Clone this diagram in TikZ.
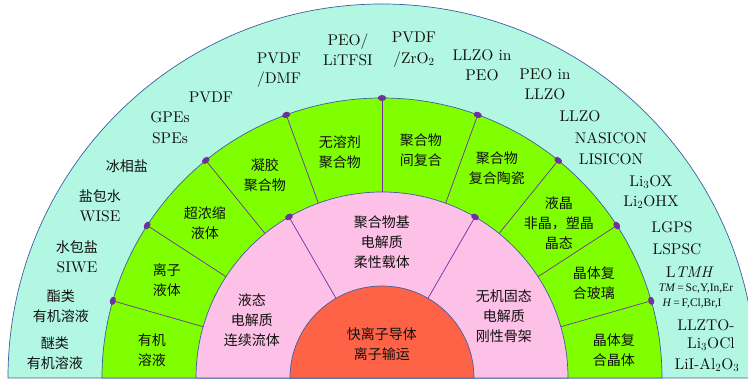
\documentclass[tikz,border=0pt]{standalone}
\usepackage{fontspec}
\setmainfont{lmroman10-regular.otf}[ItalicFont=lmroman10-italic.otf]
\newfontfamily\cjk{Noto Sans CJK SC}
\newfontfamily\timesf{Liberation Serif}
\definecolor{ringA}{HTML}{B2F7E2}
\definecolor{ringB}{HTML}{80FF00}
\definecolor{ringC}{HTML}{FDC0E6}
\definecolor{ringD}{HTML}{FF6347}
\definecolor{edgec}{HTML}{3F5FA0}
\definecolor{divc}{HTML}{7030A0}
\definecolor{txt}{HTML}{111111}
\newcommand\zh[1]{{\cjk\fontsize{14}{20}\selectfont #1}}
\tikzset{
  ring/.style={draw=edgec, line width=0.7pt},
  divline/.style={draw=divc, line width=0.7pt},
  lbl/.style={align=center, text=txt, inner sep=0pt, font=\fontsize{15.5}{20.5}\selectfont},
  zlbl/.style={align=center, text=txt, inner sep=0pt, font=\cjk\fontsize{14}{20}\selectfont},
  small/.style={align=center, text=txt, inner sep=0pt, font=\timesf\fontsize{11.5}{13}\selectfont},
}
\begin{document}
\begin{tikzpicture}[x=1pt,y=1pt]
\useasboundingbox (-382,-5) rectangle (366,378);
\fill[white] (-382,-5) rectangle (366,378);
\begin{scope}
\clip (-382,-5) rectangle (366,378);
\filldraw[ring, fill=ringA] (-374,0) arc[start angle=180, end angle=0, radius=374] -- cycle;
\filldraw[ring, fill=ringB] (-280,0) arc[start angle=180, end angle=0, radius=280] -- cycle;
\filldraw[ring, fill=ringC] (-186,0) arc[start angle=180, end angle=0, radius=186] -- cycle;
\filldraw[ring, fill=ringD] (-92,0) arc[start angle=180, end angle=0, radius=92] -- cycle;
% green ring dividers
\foreach \a in {16,33,51,70,90,110,129,147,164} {
  \coordinate (go\a) at (\a:280);
  \coordinate (gi\a) at (\a:186);
  \draw[divline] (go\a) -- (gi\a);
}
% pink ring dividers
\foreach \a in {60,120} {
  \coordinate (po\a) at (\a:186);
  \coordinate (pi\a) at (\a:92);
  \draw[divline] (po\a) -- (pi\a);
}
\foreach \a in {16,33,51,70,90,110,129,147,164} {
  \fill[divc] (go\a) ellipse[x radius=4.2, y radius=3, rotate=\a+90];
}
\foreach \a in {60,120} {
  \fill[divc] (po\a) ellipse[x radius=4.2, y radius=3, rotate=\a+90];
}
\end{scope}
% outer ring labels
\node[zlbl] (o1) at (-327,24.5) {醚类\\有机溶液};
\node[zlbl] (o2) at (-321,71.5) {酯类\\有机溶液};
\node[lbl] (o3) at (-305,121) {\zh{水包盐}\\SIWE};
\node[lbl] (o4) at (-282,172) {\zh{盐包水}\\WISE};
\node[zlbl] (o5) at (-255,212) {冰相盐};
\node[lbl] (o6) at (-212,250.5) {GPEs\\SPEs};
\node[lbl] (o7) at (-171,281) {PVDF};
\node[lbl] (o8) at (-103,308) {PVDF\\/DMF};
\node[lbl] (o9) at (-34,328) {PEO/\\LiTFSI};
\node[lbl] (o10) at (32,328.5) {PVDF\\/ZrO$_2$};
\node[lbl] (o11) at (100,313) {LLZO in\\PEO};
\node[lbl] (o12) at (163,294) {PEO in\\LLZO};
\node[lbl] (o13) at (198,262) {LLZO};
\node[lbl] (o14) at (229,229.5) {NASICON\\LISICON};
\node[lbl] (o15) at (269,186) {Li$_3$OX\\Li$_2$OHX};
\node[lbl] (o16) at (290,151) {LGPS};
\node[lbl] (o17) at (295,129) {LSPSC};
\node[lbl] (o18) at (307,106) {L$\mathit{TMH}$};
\node[small] (o19) at (314,89) {\textit{TM}\,=\,Sc,Y,In,Er};
\node[small] (o20) at (310,75) {\textit{H}\,=\,F,Cl,Br,I};
\node[lbl] (o21) at (324,53) {LLZTO-};
\node[lbl] (o22) at (329,34) {Li$_3$OCl};
\node[lbl] (o23) at (325,13) {LiI-Al$_2$O$_3$};
% green ring labels
\node[zlbl] (g1) at (-230,28) {有机\\溶液};
\node[zlbl] (g2) at (-215,98) {离子\\液体};
\node[zlbl] (g3) at (-177,155) {超浓缩\\液体};
\node[zlbl] (g4) at (-117,203) {凝胶\\聚合物};
\node[zlbl] (g5) at (-42,226) {无溶剂\\聚合物};
\node[zlbl] (g6) at (39,228) {聚合物\\间复合};
\node[zlbl] (g7) at (115,210) {聚合物\\复合陶瓷};
\node[zlbl] (g8) at (177,155) {液晶\\非晶，塑晶\\晶态};
\node[zlbl] (g9) at (212,95) {晶体复\\合玻璃};
\node[zlbl] (g10) at (232,28) {晶体复\\合晶体};
% pink ring labels
\node[zlbl] (p1) at (-130,58) {液态\\电解质\\连续流体};
\node[zlbl] (p2) at (0,136) {聚合物基\\电解质\\柔性载体};
\node[zlbl] (p3) at (122,62) {无机固态\\电解质\\刚性骨架};
% core label
\node[zlbl] (c1) at (0,34) {快离子导体\\离子输运};
\end{tikzpicture}
\end{document}
